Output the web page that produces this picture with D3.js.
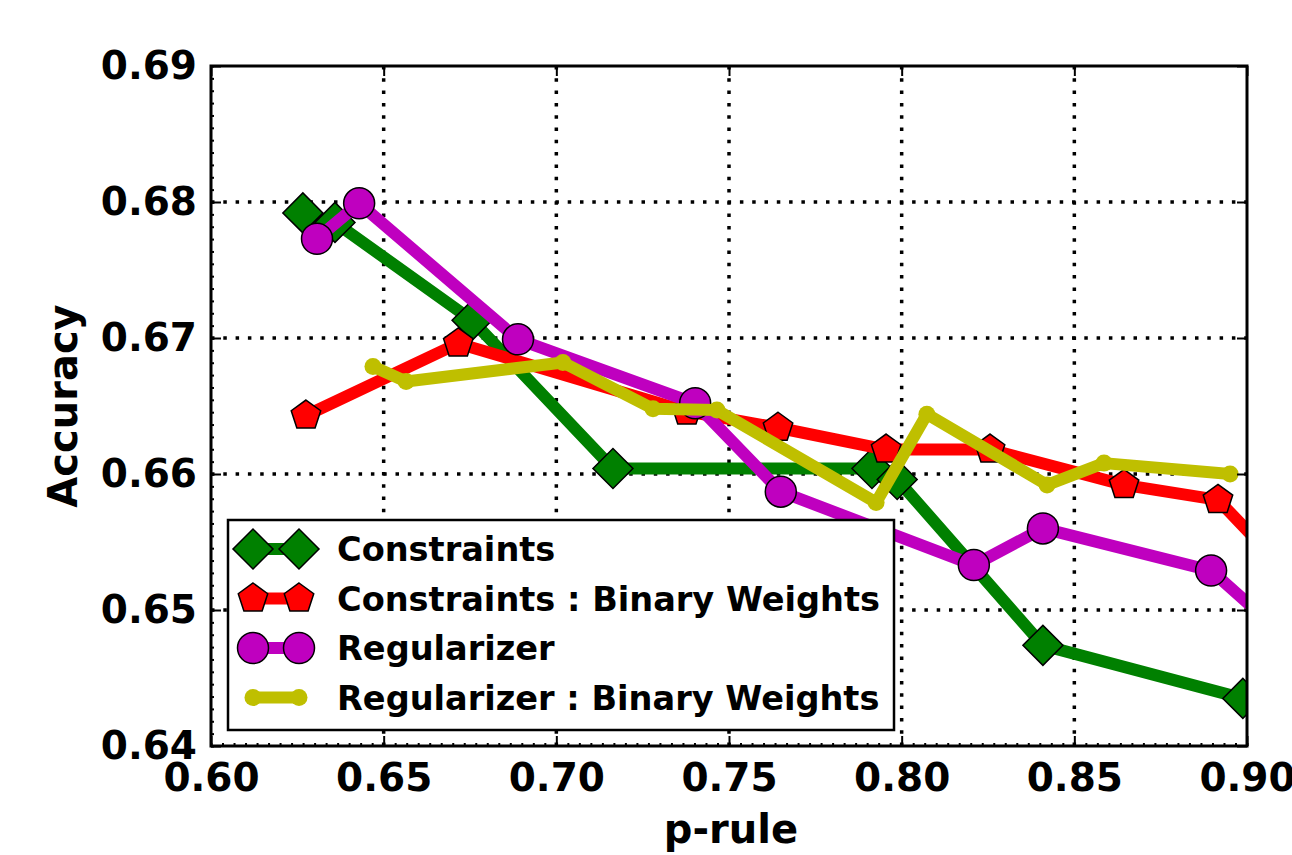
<!DOCTYPE html>
<html>
<head>
<meta charset="utf-8">
<script src="https://cdn.jsdelivr.net/npm/d3@7"></script>
<style>
  body { margin: 0; background: #fff; }
  text { font-family: "DejaVu Sans", sans-serif; font-weight: bold; }
</style>
</head>
<body>
<script>
// values
var xTicks = [0.60, 0.65, 0.70, 0.75, 0.80, 0.85, 0.90];
var yTicks = [0.64, 0.65, 0.66, 0.67, 0.68, 0.69];

var constraintsX = [0.6266, 0.6359, 0.6756, 0.7164, 0.7914, 0.7987, 0.8409, 0.8988];
var constraintsY = [0.6792, 0.6785, 0.6713, 0.6604, 0.6604, 0.6596, 0.6474, 0.6435];

var constraintsBinX = [0.6275, 0.6716, 0.7378, 0.7642, 0.7955, 0.8256, 0.8644, 0.8916, 0.9100];
var constraintsBinY = [0.6643, 0.6696, 0.6646, 0.6634, 0.6618, 0.6618, 0.6592, 0.6581, 0.6532];

var regularizerX = [0.6307, 0.6429, 0.6889, 0.7402, 0.7650, 0.8209, 0.8409, 0.8896, 0.9100];
var regularizerY = [0.6773, 0.6799, 0.6699, 0.6652, 0.6587, 0.6533, 0.6560, 0.6529, 0.6483];

var regBinX = [0.6469, 0.6565, 0.7019, 0.7280, 0.7465, 0.7926, 0.8073, 0.8421, 0.8586, 0.8951];
var regBinY = [0.6679, 0.6668, 0.6682, 0.6648, 0.6647, 0.6579, 0.6644, 0.6592, 0.6608, 0.6600];

var seriesNames = ["Constraints", "Constraints : Binary Weights", "Regularizer", "Regularizer : Binary Weights"];

var margin = {top: 66, right: 45, bottom: 109, left: 211},
    width = 1292 - margin.left - margin.right,
    height = 855 - margin.top - margin.bottom;

var x = d3.scaleLinear().domain([0.60, 0.90]).range([0, width]);
var y = d3.scaleLinear().domain([0.64, 0.69]).range([height, 0]);

// pentagon marker, circumradius r
function pentagon(r) {
  var pts = d3.range(5).map(function(i) {
    var a = -Math.PI / 2 + i * 2 * Math.PI / 5;
    return [r * Math.cos(a), r * Math.sin(a)];
  });
  return "M" + pts.join("L") + "Z";
}
var diamondPath = d3.symbol().type(d3.symbolSquare).size(800)();

var series = [
  {name: seriesNames[0], xs: constraintsX, ys: constraintsY, color: "#008000", marker: "diamond"},
  {name: seriesNames[1], xs: constraintsBinX, ys: constraintsBinY, color: "#ff0000", marker: "pentagon"},
  {name: seriesNames[2], xs: regularizerX, ys: regularizerY, color: "#bf00bf", marker: "circle"},
  {name: seriesNames[3], xs: regBinX, ys: regBinY, color: "#bfbf00", marker: "dot"}
];

function drawMarker(sel, kind, color) {
  if (kind === "diamond") {
    sel.append("path").attr("d", diamondPath).attr("transform", "rotate(45)")
      .attr("fill", color).attr("stroke", "#000").attr("stroke-width", 1.5);
  } else if (kind === "pentagon") {
    sel.append("path").attr("d", pentagon(15.5))
      .attr("fill", color).attr("stroke", "#000").attr("stroke-width", 1.5);
  } else if (kind === "circle") {
    sel.append("circle").attr("r", 15.5)
      .attr("fill", color).attr("stroke", "#000").attr("stroke-width", 1.5);
  } else {
    sel.append("circle").attr("r", 8.5).attr("fill", color);
  }
}

var svg = d3.select("body").append("svg")
    .attr("width", 1292)
    .attr("height", 855)
  .append("g")
    .attr("transform", "translate(" + margin.left + "," + margin.top + ")");

svg.append("defs").append("clipPath").attr("id", "plotclip")
  .append("rect").attr("width", width).attr("height", height);

// dotted grid
svg.append("g").attr("class", "grid")
  .selectAll("line").data(xTicks.slice(1, -1)).enter().append("line")
  .attr("x1", function(d) { return x(d); }).attr("x2", function(d) { return x(d); })
  .attr("y1", 0).attr("y2", height);
svg.append("g").attr("class", "grid")
  .selectAll("line").data(yTicks.slice(1, -1)).enter().append("line")
  .attr("y1", function(d) { return y(d); }).attr("y2", function(d) { return y(d); })
  .attr("x1", 0).attr("x2", width);
svg.selectAll(".grid line")
  .attr("stroke", "#000").attr("stroke-width", 3.5).attr("stroke-dasharray", "3.5,8.8");

// lines and markers
var plot = svg.append("g").attr("clip-path", "url(#plotclip)");
series.forEach(function(s) {
  var pts = s.xs.map(function(v, i) { return [v, s.ys[i]]; });
  var line = d3.line().x(function(d) { return x(d[0]); }).y(function(d) { return y(d[1]); });
  plot.append("path").datum(pts).attr("d", line)
    .attr("fill", "none").attr("stroke", s.color).attr("stroke-width", 12)
    .attr("stroke-linejoin", "round");
  pts.forEach(function(p) {
    var g = plot.append("g").attr("transform", "translate(" + x(p[0]) + "," + y(p[1]) + ")");
    drawMarker(g, s.marker, s.color);
  });
});

// minor ticks
var xMinor = d3.range(0, 90 + 1).map(function(i) { return 0.60 + i * 0.3 / 90; });
var yMinor = d3.range(0, 55 + 1).map(function(i) { return 0.64 + i * 0.05 / 55; });
function styleAxis(g) {
  g.select(".domain").remove();
  g.selectAll(".tick line").attr("stroke", "#000").attr("stroke-width", 2);
}
svg.append("g").attr("transform", "translate(0," + height + ")")
  .call(d3.axisBottom(x).tickValues(xMinor).tickSize(-3).tickFormat("")).call(styleAxis);
svg.append("g")
  .call(d3.axisLeft(y).tickValues(yMinor).tickSize(-3).tickFormat("")).call(styleAxis);

// major ticks on all four sides, pointing in
svg.append("g").attr("transform", "translate(0," + height + ")")
  .call(d3.axisBottom(x).tickValues(xTicks).tickSize(-10).tickPadding(17).tickFormat(d3.format(".2f")))
  .call(styleAxis)
  .selectAll("text").attr("font-size", 39).attr("fill", "#000").attr("dy", "0.71em");
svg.append("g")
  .call(d3.axisTop(x).tickValues(xTicks).tickSize(-10).tickFormat("")).call(styleAxis);
svg.append("g")
  .call(d3.axisLeft(y).tickValues(yTicks).tickSize(-10).tickPadding(14).tickFormat(d3.format(".2f")))
  .call(styleAxis)
  .selectAll("text").attr("font-size", 39).attr("fill", "#000").attr("dy", "0.33em");
svg.append("g").attr("transform", "translate(" + width + ",0)")
  .call(d3.axisRight(y).tickValues(yTicks).tickSize(-10).tickFormat("")).call(styleAxis);

// frame
svg.append("rect").attr("width", width).attr("height", height)
  .attr("fill", "none").attr("stroke", "#000").attr("stroke-width", 3);

// axis titles
svg.append("text").attr("x", width / 2 + 2).attr("y", height + 97)
  .attr("text-anchor", "middle").attr("font-size", 40).text("p-rule");
svg.append("text").attr("transform", "translate(" + (-134) + "," + (height / 2) + ") rotate(-90)")
  .attr("text-anchor", "middle").attr("font-size", 40).text("Accuracy");

// legend
var legend = svg.append("g").attr("transform", "translate(" + (228 - margin.left) + "," + (520 - margin.top) + ")");
legend.append("rect").attr("width", 666).attr("height", 210)
  .attr("fill", "#fff").attr("stroke", "#000").attr("stroke-width", 2.5);
series.forEach(function(s, i) {
  var row = legend.append("g").attr("transform", "translate(0," + (29 + i * 49.5) + ")");
  row.append("line").attr("x1", 25).attr("x2", 71).attr("y1", 0).attr("y2", 0)
    .attr("stroke", s.color).attr("stroke-width", 12);
  [25, 71].forEach(function(mx) {
    drawMarker(row.append("g").attr("transform", "translate(" + mx + ",0)"), s.marker, s.color);
  });
  row.append("text").attr("x", 109).attr("y", 12).attr("font-size", 33.6).text(s.name);
});
</script>
</body>
</html>
